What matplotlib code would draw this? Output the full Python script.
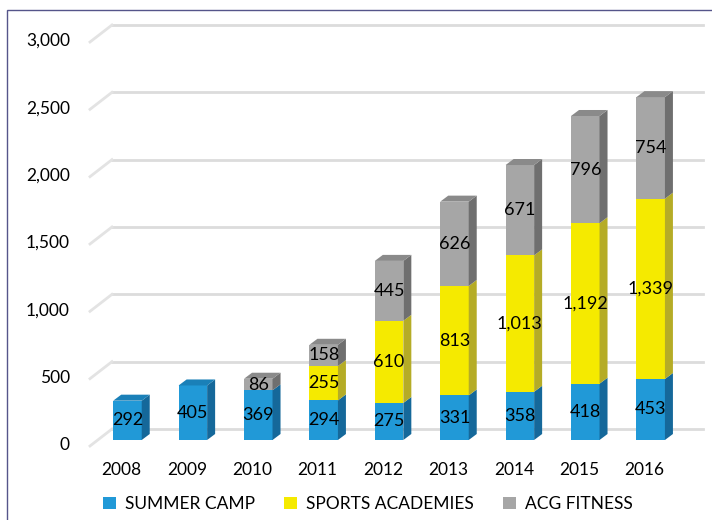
import matplotlib
matplotlib.use('Agg')
import matplotlib.pyplot as plt
from matplotlib.patches import Polygon, Patch, Rectangle

plt.rcParams['font.family'] = ['Lato', 'DejaVu Sans']

years = ['2008', '2009', '2010', '2011', '2012', '2013', '2014', '2015', '2016']
summer_camp = [292, 405, 369, 294, 275, 331, 358, 418, 453]
sports_academies = [0, 0, 0, 255, 610, 813, 1013, 1192, 1339]
acg_fitness = [0, 0, 86, 158, 445, 626, 671, 796, 754]
series_names = ['SUMMER CAMP', 'SPORTS ACADEMIES', 'ACG FITNESS']
yticks = [0, 500, 1000, 1500, 2000, 2500, 3000]

# front, side, top
colors = [('#2199d7', '#15689a', '#1a80b8'),
          ('#f5ea00', '#b5ac26', '#d6cc12'),
          ('#a6a6a6', '#6f6f6f', '#8a8a8a')]

W, H = 712, 520
fig = plt.figure(figsize=(W / 100, H / 100), dpi=100)
ax = fig.add_axes([90 / W, (H - 440) / H, (703 - 90) / W, 404 / H])
ax.set_xlim(-0.573, 8.80)
ax.set_ylim(0, 3000)
ax.axis('off')

# pixel -> data conversions
px_x = (8.80 + 0.573) / 613
px_y = 3000 / 404
bw = 28.5 * px_x
dx, dy = 8 * px_x, 6 * px_y

# gridlines (back wall) with a short diagonal toward the front
for v in yticks:
    ax.plot([-0.237, 8.80], [v + 11 * px_y] * 2, color='#dcdcdc', lw=2, zorder=0, clip_on=False)
    ax.plot([-0.573, -0.237], [v - 6 * px_y, v + 11 * px_y], color='#e3e3e3', lw=2, zorder=0, clip_on=False)
    ax.annotate(f'{v:,}', xy=(-0.573, v), xytext=(-20, -5), textcoords='offset pixels',
                ha='right', va='center', fontsize=12.5, color='#000000')

series = [summer_camp, sports_academies, acg_fitness]
x = list(range(len(years)))
bottoms = [0] * len(years)
for si, vals in enumerate(series):
    front, side, top = colors[si]
    ax.bar(x, vals, width=bw, bottom=bottoms, color=front, zorder=2)
    for i, v in enumerate(vals):
        if v == 0:
            continue
        y0, y1 = bottoms[i], bottoms[i] + v
        xl, xr = i - bw / 2, i + bw / 2
        ax.add_patch(Polygon([(xr, y0), (xr + dx, y0 + dy), (xr + dx, y1 + dy), (xr, y1)],
                             closed=True, facecolor=side, edgecolor='none', zorder=2))
        is_top = all(s[i] == 0 for s in series[si + 1:])
        if is_top:
            ax.add_patch(Polygon([(xl, y1), (xl + dx, y1 + dy), (xr + dx, y1 + dy), (xr, y1)],
                                 closed=True, facecolor=top, edgecolor='none', zorder=2))
        ax.text(i, (y0 + y1) / 2, f'{v:,}', ha='center', va='center', fontsize=13,
                color='#000000', zorder=3)
    bottoms = [b + v for b, v in zip(bottoms, vals)]

for i, yr in enumerate(years):
    ax.annotate(yr, xy=(i, 0), xytext=(-6, -30), textcoords='offset pixels',
                ha='center', va='center', fontsize=12.5, color='#000000')

handles = [Patch(facecolor=c[0]) for c in colors]
fig.legend(handles, series_names, loc='center', bbox_to_anchor=(368 / W, 1 - 504 / H),
           ncol=3, frameon=False, fontsize=12.5, handlelength=0.75, handleheight=0.75,
           handletextpad=0.5, columnspacing=1.7)

fig.patches.append(Rectangle((7 / W, -0.1), 1.2, 1.1 - 10.5 / H, transform=fig.transFigure,
                             fill=False, edgecolor='#55558a', lw=1))

fig.savefig('out.png', dpi=100)
